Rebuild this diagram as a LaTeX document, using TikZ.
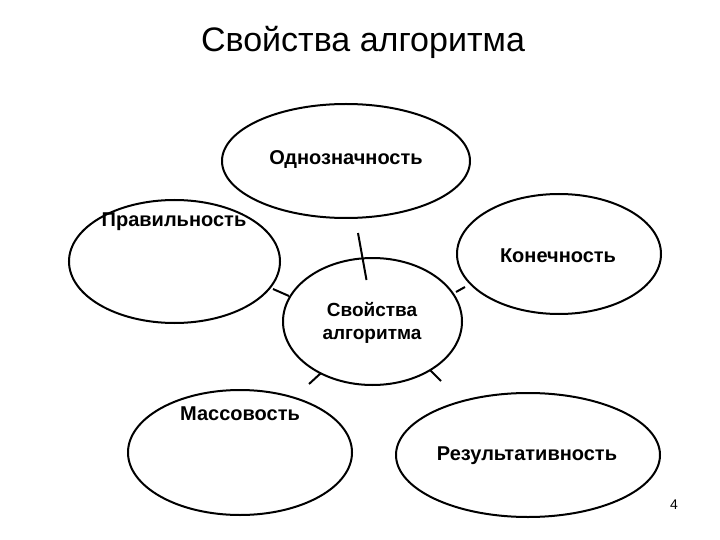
\documentclass[tikz,border=0pt]{standalone}
\usepackage{fontspec}
\setmainfont{Liberation Sans}
\usetikzlibrary{shapes.geometric}
\begin{document}
\begin{tikzpicture}[x=1pt,y=-1pt,
  oval/.style={draw=black,line width=2pt,ellipse,inner sep=0pt},
  lbl/.style={font=\bfseries\fontsize{20}{23}\selectfont,inner sep=0pt,align=center},
  spoke/.style={line width=2pt}]
\useasboundingbox (0,0) rectangle (720,540);
\node[font=\fontsize{34}{40}\selectfont] (title) at (363,42) {Свойства алгоритма};
% ellipses
\node[oval,minimum width=248pt,minimum height=114pt] (top) at (346,161) {};
\node[oval,minimum width=211pt,minimum height=123pt] (left) at (174.5,261.5) {};
\node[oval,minimum width=204pt,minimum height=120pt] (right) at (559,254) {};
\node[oval,minimum width=224pt,minimum height=125pt] (bl) at (240,452.5) {};
\node[oval,minimum width=264pt,minimum height=124pt] (br) at (528,455) {};
\node[oval,fill=white,minimum width=179pt,minimum height=127pt] (mid) at (372.5,321.5) {};
% labels
\node[lbl] (ltop) at (346,160) {Однозначность};
\node[lbl] (lleft) at (174,222) {Правильность};
\node[lbl] (lright) at (558,256) {Конечность};
\node[lbl] (lbl2) at (240,414) {Массовость};
\node[lbl] (lbr) at (527,456) {Результативность};
\node[lbl,font=\bfseries\fontsize{19}{23}\selectfont] (lmid) at (372,323) {Свойства\\алгоритма};
\node[font=\fontsize{14}{16}\selectfont] (num) at (674,505) {4};
% spokes
\coordinate (s1a) at (358,233); \coordinate (s1b) at (366.5,280);
\coordinate (s2a) at (273,289); \coordinate (s2b) at (289,296);
\coordinate (s3a) at (456,292); \coordinate (s3b) at (465,287);
\coordinate (s4a) at (309,384); \coordinate (s4b) at (321,373);
\coordinate (s5a) at (430,370); \coordinate (s5b) at (441,381);
\draw[spoke] (s1a) -- (s1b);
\draw[spoke] (s2a) -- (s2b);
\draw[spoke] (s3a) -- (s3b);
\draw[spoke] (s4a) -- (s4b);
\draw[spoke] (s5a) -- (s5b);
\end{tikzpicture}
\end{document}
